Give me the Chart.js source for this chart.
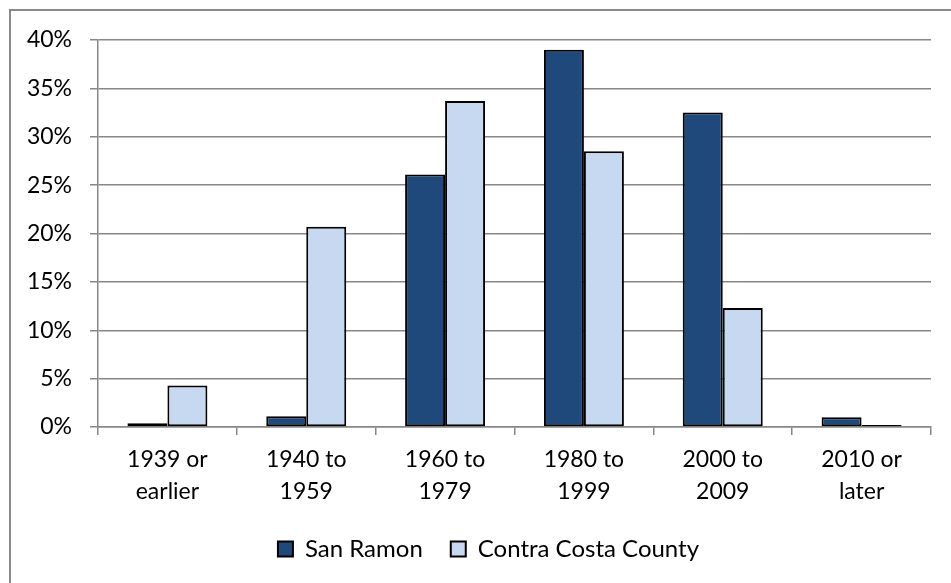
<!DOCTYPE html>
<html>
<head>
<meta charset="utf-8">
<script src="https://cdn.jsdelivr.net/npm/chart.js@4/dist/chart.umd.min.js"></script>
<style>
  html, body { margin: 0; padding: 0; background: #fff; }
  #wrap { position: relative; width: 951px; height: 583px; }
</style>
</head>
<body>
<div id="wrap"><canvas id="chart" width="951" height="583"></canvas></div>
<script>
// Year-built periods and share of housing units in each
const categories = [
  ['1939 or', 'earlier'],
  ['1940 to', '1959'],
  ['1960 to', '1979'],
  ['1980 to', '1999'],
  ['2000 to', '2009'],
  ['2010 or', 'later']
];
const sanRamon = [0.4, 1.1, 26.1, 39.0, 32.5, 1.0];
const contraCosta = [4.3, 20.7, 33.7, 28.5, 12.3, 0.2];
const seriesNames = ['San Ramon', 'Contra Costa County'];

const FONT = 'Lato, "Open Sans", sans-serif';

// Thin gray frame along the top and left edges
const framePlugin = {
  id: 'frame',
  beforeDraw(chart) {
    const ctx = chart.ctx;
    ctx.save();
    ctx.strokeStyle = '#8a8a8a';
    ctx.lineWidth = 2;
    ctx.beginPath();
    ctx.moveTo(10, chart.height);
    ctx.lineTo(10, 10);
    ctx.lineTo(chart.width, 10);
    ctx.stroke();
    ctx.restore();
  }
};

// Nudge the legend block a little left of the plot centre
const legendShift = {
  id: 'legendShift',
  afterLayout(chart) {
    const lg = chart.legend;
    if (lg) { lg.left -= 26; lg.right -= 26; }
  }
};

new Chart(document.getElementById('chart'), {
  type: 'bar',
  data: {
    labels: categories,
    datasets: [
      {
        label: seriesNames[0],
        data: sanRamon,
        backgroundColor: '#1f487b',
        borderColor: '#000',
        borderWidth: 2,
        borderSkipped: false
      },
      {
        label: seriesNames[1],
        data: contraCosta,
        backgroundColor: '#c7d9f0',
        borderColor: '#000',
        borderWidth: 2,
        borderSkipped: false
      }
    ]
  },
  options: {
    responsive: false,
    animation: false,
    devicePixelRatio: 1,
    categoryPercentage: 0.576,
    barPercentage: 1.0,
    layout: { padding: { left: 10, right: 20, top: 40, bottom: 12 } },
    plugins: {
      tooltip: { enabled: false },
      legend: {
        position: 'bottom',
        fullSize: false,
        labels: {
          color: '#000',
          font: { family: FONT, size: 24 },
          boxWidth: 15,
          boxHeight: 15,
          padding: 28
        }
      }
    },
    scales: {
      x: {
        grid: {
          drawOnChartArea: false,
          offset: true,
          tickLength: 8,
          color: '#878787',
          lineWidth: 1.5
        },
        border: { color: '#878787', width: 1.5 },
        ticks: {
          color: '#000',
          font: { family: FONT, size: 23, lineHeight: 1.4 },
          padding: 8,
          maxRotation: 0
        },
        afterFit(scale) { scale.height = 82; }
      },
      y: {
        min: 0,
        max: 40,
        grid: {
          color: '#878787',
          lineWidth: 1.5,
          tickLength: 8
        },
        border: { color: '#878787', width: 1.5 },
        ticks: {
          stepSize: 5,
          color: '#000',
          padding: 18,
          font: { family: FONT, size: 23 },
          callback: v => v + '%'
        },
        afterFit(scale) { scale.width = 88; }
      }
    }
  },
  plugins: [framePlugin, legendShift]
});
</script>
</body>
</html>
